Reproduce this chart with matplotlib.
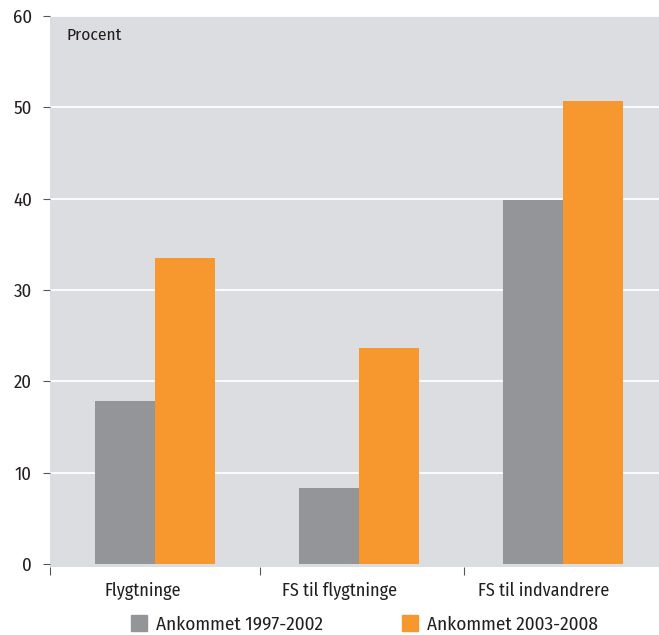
import numpy as np
import matplotlib
matplotlib.use('Agg')
import matplotlib.pyplot as plt
from matplotlib.patches import Patch

# data
categories = ['Flygtninge', 'FS til flygtninge', 'FS til indvandrere']
series_names = ['Ankommet 1997-2002', 'Ankommet 2003-2008']
arrived_1997_2002 = [17.8, 8.3, 39.8]
arrived_2003_2008 = [33.5, 23.6, 50.7]
yticks = [0, 10, 20, 30, 40, 50, 60]

# colours
bg = '#dcdde0'
grey = '#939598'
orange = '#f7982f'
txt = '#231f20'

plt.rcParams['font.family'] = ['Fira Sans Condensed', 'PT Sans Narrow', 'DejaVu Sans']

fig = plt.figure(figsize=(6.59, 6.35), dpi=100)
ax = fig.add_axes([50 / 659, 68.3 / 635, 609 / 659, 550.7 / 635])
ax.set_facecolor(bg)

x = np.arange(len(categories))
w = 0.293
ax.bar(x - w / 2, arrived_1997_2002, width=w, color=grey, zorder=3)
ax.bar(x + w / 2, arrived_2003_2008, width=w, color=orange, zorder=3)

ax.set_ylim(-0.3, 60)
ax.set_xlim(-0.509, 2.469)
ax.set_yticks(yticks)
for t in yticks[1:]:
    ax.axhline(t, color='white', lw=1.3, zorder=1)

ax.tick_params(axis='y', length=5, width=0.8, color='#555555', labelsize=13.5,
               labelcolor=txt, pad=8)
# labels sit a little left of the bar pairs in the original
ax.set_xticks(x + np.array([-0.061, -0.093, -0.098]))
ax.set_xticklabels(categories, fontsize=13, color=txt)
ax.tick_params(axis='x', length=0, pad=11)
# ticks between the groups
ax.set_xticks([-0.513, 0.513, 1.516], minor=True)
ax.tick_params(axis='x', which='minor', length=6, width=0.8, color='#555555', direction='out')

for s in ax.spines.values():
    s.set_visible(False)

ax.text(16 / 609, 0.98, 'Procent', transform=ax.transAxes, fontsize=12.5,
        color=txt, va='top', ha='left')

handles = [Patch(color=grey), Patch(color=orange)]
fig.legend(handles, series_names, loc='center', bbox_to_anchor=(0.5535, 0.017),
           ncol=2, frameon=False, fontsize=13.8, handlelength=0.85, handleheight=0.85,
           columnspacing=4.1, handletextpad=0.47, labelcolor=txt)

fig.savefig('out.png', dpi=100, facecolor='white')
